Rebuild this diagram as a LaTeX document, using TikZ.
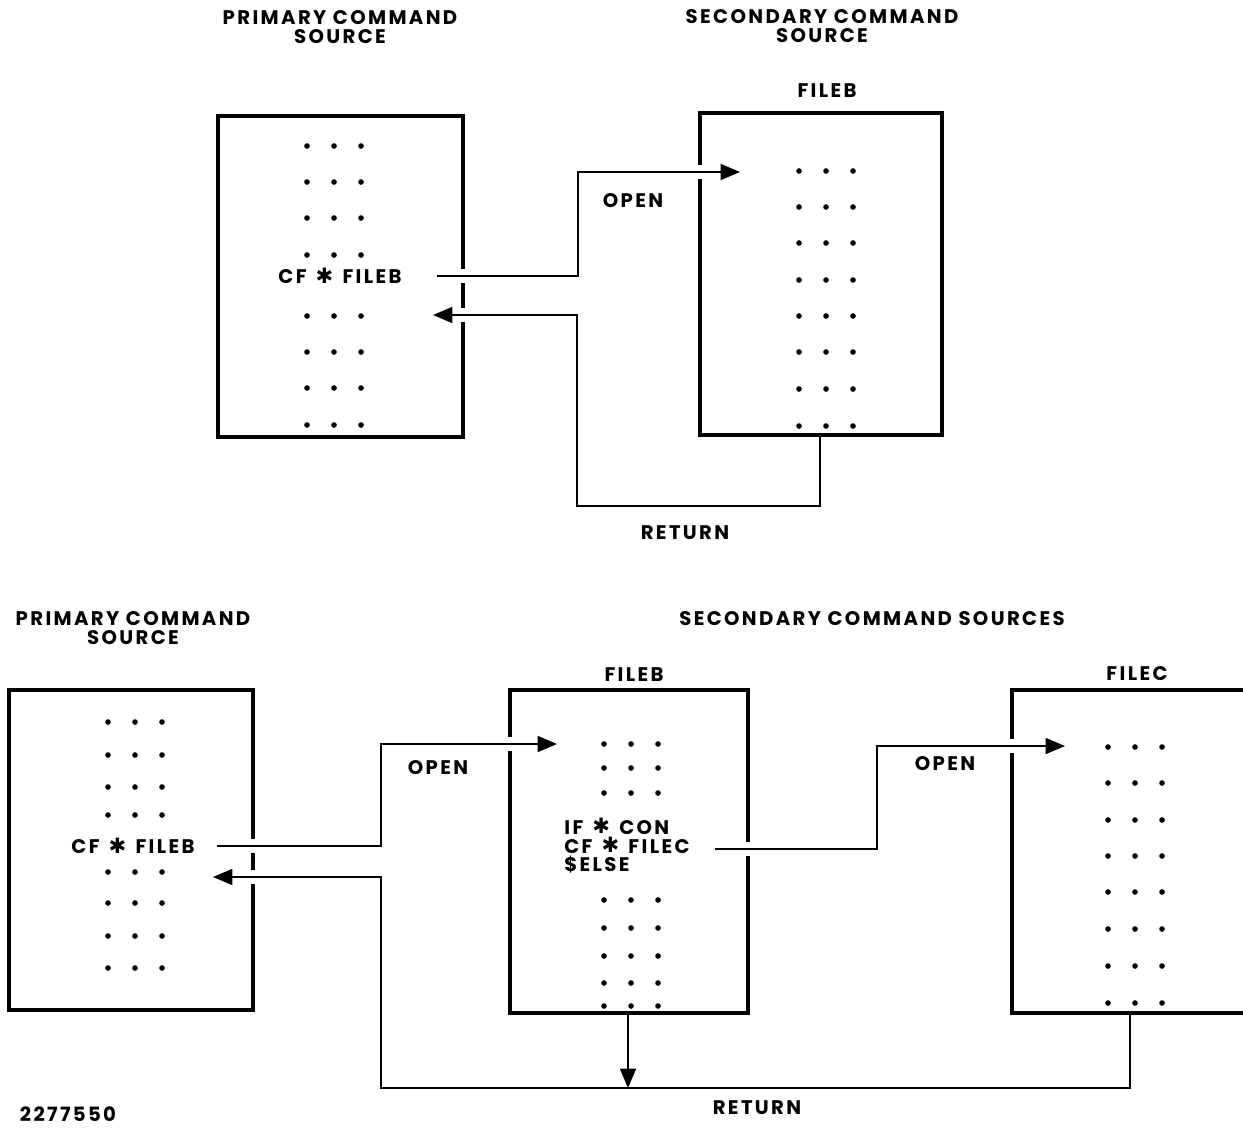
\documentclass[tikz,border=0pt]{standalone}
\usepackage{fontspec}
\setmainfont{Poppins}[LetterSpace=12]
\newfontfamily\symf{DejaVu Sans}
\usetikzlibrary{arrows.meta}
\newcommand{\myast}{\hspace{1.5pt}{\symf\fontsize{12}{12}\selectfont\raisebox{0.2pt}{✱}}\hspace{1.5pt}}
\tikzset{
  x=0.02cm, y=-0.02cm,
  lbl/.style={inner sep=0pt, font=\fontsize{11.2}{10.8}\selectfont\bfseries, align=center},
  box/.style={draw, line width=1.8pt, inner sep=0pt, outer sep=0pt},
  arr/.style={line width=1.2pt, -{Triangle[length=11pt,width=9pt]}},
  gap/.style={fill=white},
}
\newcommand{\dotrow}[2]{\foreach \xx in {#1} {\fill (\xx,#2) circle[radius=1.6pt];}}
\begin{document}
\begin{tikzpicture}
\clip (0,0) rectangle (1243,1129);
\fill[white] (0,0) rectangle (1243,1129);

% ---------- top diagram ----------
\node[lbl] (hP1) at (340,27) {PRIMARY COMMAND\\SOURCE};
\node[lbl] (hS1) at (822,26) {SECONDARY COMMAND\\SOURCE};
\node[lbl] (fB1) at (827,91) {FILEB};

\node[box, minimum width=4.90cm, minimum height=6.42cm] (P1) at (340.5,276.5) {};
\node[box, minimum width=4.84cm, minimum height=6.44cm] (S1) at (821,274) {};

\foreach \yy in {146,182,218,255,316,352,388,425} {\dotrow{307,334,361}{\yy}}
\foreach \yy in {171,207,243,280,316,352,389,426} {\dotrow{799,826,853}{\yy}}

\node[lbl] (cf1) at (340,276) {CF \myast\ FILEB};
\node[lbl] (open1) at (633,201) {OPEN};
\node[lbl] (ret1) at (685,533) {RETURN};

% gaps in borders
\fill[gap] (459,269) rectangle (467,283);
\fill[gap] (459,308) rectangle (467,322);
\fill[gap] (696,165) rectangle (704,179);

\coordinate (a1) at (437,276);
\coordinate (a2) at (578,172);
\coordinate (a3) at (740,172);
\draw[arr] (a1) -| (a2) -- (a3);

\coordinate (r1) at (S1.south -| 820,0);
\coordinate (r2) at (820,506);
\coordinate (r3) at (577,506);
\coordinate (r4) at (577,315);
\coordinate (r5) at (433,315);
\draw[arr] (r1) -- (r2) -- (r3) -- (r4) -- (r5);

% ---------- bottom diagram ----------
\node[lbl] (hP2) at (133,628) {PRIMARY COMMAND\\SOURCE};
\node[lbl] (hS2) at (872,619) {SECONDARY COMMAND SOURCES};
\node[lbl] (fB2) at (634,675) {FILEB};
\node[lbl] (fC2) at (1137,674) {FILEC};

\node[box, minimum width=4.88cm, minimum height=6.40cm] (P2) at (131,850) {};
\node[box, minimum width=4.76cm, minimum height=6.46cm] (S2) at (629,851.5) {};
\node[box, minimum width=5.36cm, minimum height=6.46cm] (S3) at (1146,851.5) {};

\foreach \yy in {722,755,787,815,872,903,936,968} {\dotrow{108,135,162}{\yy}}
\foreach \yy in {744,768,793,900,928,956,983,1006} {\dotrow{604,631,658}{\yy}}
\foreach \yy in {747,783,820,856,892,929,966,1003} {\dotrow{1108,1135,1162}{\yy}}

\node[lbl] (cf2) at (133,846) {CF \myast\ FILEB};
\node[lbl, anchor=west, align=left] (cfC) at (564,846) {IF \myast\ CON\\CF \myast\ FILEC\\\$ELSE};
\node[lbl] (open2) at (438,768) {OPEN};
\node[lbl] (open3) at (945,764) {OPEN};
\node[lbl] (ret2) at (757,1108) {RETURN};
\node[lbl] (num) at (68,1114) {2277550};

% gaps in borders
\fill[gap] (249,839) rectangle (257,853);
\fill[gap] (249,870) rectangle (257,884);
\fill[gap] (506,737) rectangle (514,751);
\fill[gap] (744,842) rectangle (752,856);
\fill[gap] (1008,739) rectangle (1016,753);

\coordinate (b1) at (217,846);
\coordinate (b2) at (381,744);
\coordinate (b3) at (557,744);
\draw[arr] (b1) -| (b2) -- (b3);

\coordinate (c1) at (715,849);
\coordinate (c2) at (877,746);
\coordinate (c3) at (1065,746);
\draw[arr] (c1) -| (c2) -- (c3);

\coordinate (d1) at (S3.south -| 1130,0);
\coordinate (d2) at (1130,1088);
\coordinate (d3) at (381,1088);
\coordinate (d4) at (381,877);
\coordinate (d5) at (213,877);
\draw[arr] (d1) -- (d2) -- (d3) -- (d4) -- (d5);

\coordinate (e1) at (S2.south -| 628,0);
\coordinate (e2) at (628,1088);
\draw[arr] (e1) -- (e2);
\end{tikzpicture}
\end{document}
